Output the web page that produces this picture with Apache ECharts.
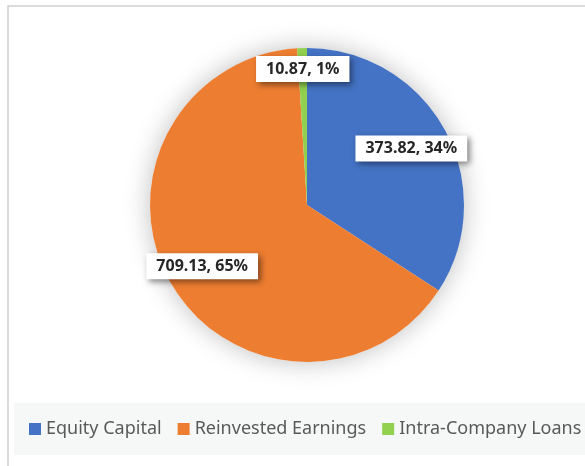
<!DOCTYPE html>
<html>
<head>
<meta charset="utf-8">
<script src="https://cdn.jsdelivr.net/npm/echarts@6/dist/echarts.min.js"></script>
<style>
  html, body { margin: 0; padding: 0; background: #ffffff; }
  #chart { width: 585px; height: 466px; }
</style>
</head>
<body>
<div id="chart"></div>
<script>
// FDI inflow components
const categories = ['Equity Capital', 'Reinvested Earnings', 'Intra-Company Loans'];
const values = [373.82, 709.13, 10.87];
const colors = ['#4472C4', '#ED7D31', '#92D050'];

// Pie geometry and how far out (as a share of the radius) each data label sits
const pieCenter = [307, 205];
const pieRadius = 157;
const labelRadiusShare = [0.756, 0.773, 0.866];

const total = values.reduce((a, b) => a + b, 0);

function labelPosition(index) {
  let before = 0;
  for (let i = 0; i < index; i++) before += values[i];
  const mid = (before + values[index] / 2) / total;
  const ang = mid * Math.PI * 2; // clockwise from 12 o'clock
  const d = pieRadius * labelRadiusShare[index];
  return {
    x: pieCenter[0] + Math.sin(ang) * d,
    y: pieCenter[1] - Math.cos(ang) * d
  };
}

const chart = echarts.init(document.getElementById('chart'), null, { renderer: 'canvas' });

chart.setOption({
  animation: false,
  backgroundColor: '#ffffff',
  graphic: [
    {
      type: 'rect',
      z: -10,
      shape: { x: 8, y: 6, width: 620, height: 520 },
      style: { fill: '#ffffff', stroke: '#cfcfcf', lineWidth: 1.5 }
    }
  ],
  legend: {
    data: categories,
    left: 14,
    top: 403,
    width: 700,
    orient: 'horizontal',
    backgroundColor: '#f6f8f8',
    padding: [17, 60, 17, 15],
    icon: 'rect',
    itemWidth: 12,
    itemHeight: 12,
    itemGap: 16,
    selectedMode: false,
    textStyle: {
      fontFamily: '"Noto Sans", sans-serif',
      fontSize: 18,
      color: '#595959',
      padding: [0, 0, 0, 0],
      lineHeight: 16
    }
  },
  series: [
    {
      // soft drop shadow behind the whole pie
      type: 'pie',
      silent: true,
      center: pieCenter,
      radius: pieRadius,
      z: 1,
      label: { show: false },
      labelLine: { show: false },
      emphasis: { disabled: true },
      data: [{
        name: 'total',
        value: total,
        itemStyle: {
          color: '#ffffff',
          shadowBlur: 26,
          shadowColor: 'rgba(0,0,0,0.26)'
        }
      }]
    },
    {
      type: 'pie',
      center: pieCenter,
      radius: pieRadius,
      startAngle: 90,
      clockwise: true,
      z: 2,
      avoidLabelOverlap: false,
      itemStyle: { borderWidth: 0 },
      emphasis: { disabled: true },
      data: categories.map((name, i) => ({
        name: name,
        value: values[i],
        itemStyle: { color: colors[i] }
      })),
      label: {
        show: true,
        position: 'inside',
        formatter: (p) => p.value + ', ' + Math.round(p.percent) + '%',
        fontFamily: '"Noto Sans", sans-serif',
        fontWeight: 'bold',
        fontSize: 16,
        color: '#262626',
        backgroundColor: '#ffffff',
        padding: [6, 10, 4, 10],
        shadowColor: 'rgba(0,0,0,0.45)',
        shadowBlur: 6,
        shadowOffsetX: 3,
        shadowOffsetY: 3
      },
      labelLine: { show: false },
      labelLayout: (params) => {
        const pos = labelPosition(params.dataIndex);
        return { x: pos.x, y: pos.y, align: 'center', verticalAlign: 'middle' };
      }
    }
  ]
});
</script>
</body>
</html>
